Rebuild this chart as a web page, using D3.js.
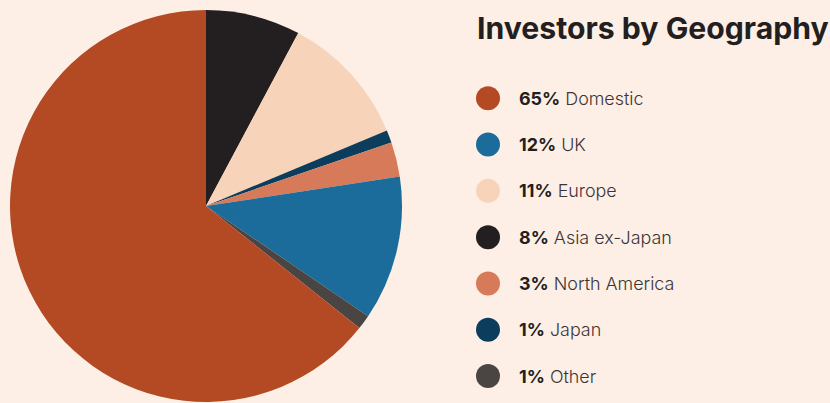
<!DOCTYPE html>
<html>
<head>
<meta charset="utf-8">
<script src="https://cdn.jsdelivr.net/npm/d3@7"></script>
<style>
  html, body { margin: 0; padding: 0; background: #fdefe6; }
  svg { display: block; }
</style>
</head>
<body>
<svg id="chart" width="830" height="403"></svg>
<script>
// Pie slices in drawing order (clockwise from 12 o'clock)
const sliceNames  = ["Asia ex-Japan", "Europe", "Japan", "North America", "UK", "Other", "Domestic"];
const sliceValues = [7.8, 10.9, 1.05, 2.85, 11.9, 1.2, 64.3];
const sliceColors = ["#231f20", "#f7d3b9", "#0c3d5c", "#d77a5a", "#1b6c9b", "#4a4542", "#b34a24"];

// Legend rows (top to bottom)
const legendNames   = ["Domestic", "UK", "Europe", "Asia ex-Japan", "North America", "Japan", "Other"];
const legendPercent = ["65%", "12%", "11%", "8%", "3%", "1%", "1%"];
const titleText = "Investors by Geography";

const svg = d3.select("#chart");
const W = 830, H = 403;
svg.append("rect").attr("width", W).attr("height", H).attr("fill", "#fdefe6");

const cx = 206, cy = 206, r = 196;
const colorOf = d3.scaleOrdinal().domain(sliceNames).range(sliceColors);

const pie = d3.pie().sort(null).value(d => d.value);
const arc = d3.arc().innerRadius(0).outerRadius(r);
const data = sliceNames.map((n, i) => ({ name: n, value: sliceValues[i] }));

svg.append("g").attr("transform", `translate(${cx},${cy})`)
  .selectAll("path").data(pie(data)).join("path")
  .attr("d", arc)
  .attr("fill", d => colorOf(d.data.name));

const font = "Inter, 'Open Sans', sans-serif";

svg.append("text")
  .attr("x", 477).attr("y", 38.5)
  .attr("font-family", font).attr("font-weight", 700)
  .attr("font-size", 30.2).attr("fill", "#231f20")
  .text(titleText);

const rowY = d3.scalePoint().domain(legendNames).range([98.3, 376]);

const rows = svg.append("g").selectAll("g").data(legendNames).join("g")
  .attr("transform", d => `translate(0,${rowY(d)})`);

rows.append("circle").attr("cx", 488).attr("cy", 0).attr("r", 12)
  .attr("fill", d => colorOf(d));

const t = rows.append("text").attr("x", 519).attr("y", 6.6)
  .attr("font-family", font).attr("font-size", 17.9).attr("fill", "#231f20");
t.append("tspan").attr("font-weight", 700).text((d, i) => legendPercent[i]);
t.append("tspan").attr("font-weight", 300).attr("fill", "#3a3536").text(d => " " + d);
</script>
</body>
</html>
